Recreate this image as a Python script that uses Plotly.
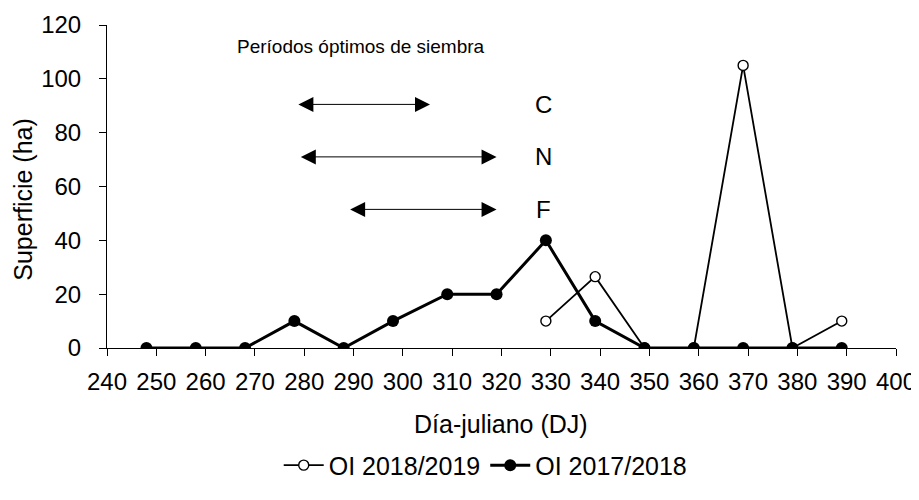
import plotly.graph_objects as go

# Data
dias = [248, 258, 268, 278, 288, 298, 309, 319, 329, 339, 349, 359, 369, 379, 389]
oi_2017_2018 = [0, 0, 0, 10, 0, 10, 20, 20, 40, 10, 0, 0, 0, 0, 0]
dias_2018 = [329, 339, 349, 359, 369, 379, 389]
oi_2018_2019 = [10, 26.5, 0, 0, 105, 0, 10]

# Optimal sowing periods (start, end, y level, label)
periodo_labels = ["C", "N", "F"]
periodo_inicio = [278.5, 279, 289]
periodo_fin = [305.5, 319, 319]
periodo_y = [90.5, 71, 51.5]

FONT = "Liberation Sans, Arial, sans-serif"

# The page body adds an 8px offset, so the figure is sized to fit the 919x500 window.
W, H = 911, 492
PLOT_L, PLOT_B, PLOT_W, PLOT_H = 107, 354, 789, 329  # reference plot area (window px)

fig = go.Figure()
fig.add_trace(go.Scatter(
    x=dias_2018, y=oi_2018_2019, mode="lines+markers", name="OI 2018/2019",
    line=dict(color="black", width=1.8),
    marker=dict(symbol="circle", size=10, color="white", line=dict(color="black", width=1.4)),
))
fig.add_trace(go.Scatter(
    x=dias, y=oi_2017_2018, mode="lines+markers", name="OI 2017/2018",
    line=dict(color="black", width=3),
    marker=dict(symbol="circle", size=12, color="black"),
))

annotations = []
for lab, x0, x1, yv in zip(periodo_labels, periodo_inicio, periodo_fin, periodo_y):
    annotations.append(dict(
        x=x1, y=yv, ax=x0, ay=yv, xref="x", yref="y", axref="x", ayref="y",
        text="", showarrow=True, arrowhead=2, startarrowhead=2, arrowside="end+start",
        arrowsize=3, startarrowsize=3, arrowwidth=1, arrowcolor="black",
    ))
    annotations.append(dict(
        x=328.5, y=yv, xref="x", yref="y", text=lab, showarrow=False,
        font=dict(size=24, color="black", family=FONT),
    ))
annotations.append(dict(
    x=291.5, y=112, xref="x", yref="y", text="Períodos óptimos de siembra",
    showarrow=False, font=dict(size=19, color="black", family=FONT),
))
# axis titles
annotations.append(dict(
    x=(501 - PLOT_L) / PLOT_W, y=-(431 - PLOT_B) / PLOT_H, xref="paper", yref="paper",
    text="Día-juliano (DJ)", showarrow=False, xanchor="center", yanchor="middle",
    font=dict(size=25, color="black", family=FONT),
))
annotations.append(dict(
    x=(23 - PLOT_L) / PLOT_W, y=(PLOT_B - 203) / PLOT_H, xref="paper", yref="paper",
    text="Superficie (ha)", showarrow=False, textangle=-90, xanchor="center", yanchor="middle",
    font=dict(size=25, color="black", family=FONT),
))

fig.update_layout(
    width=W, height=H,
    margin=dict(l=PLOT_L - 8, r=23, t=25 - 8, b=146),
    paper_bgcolor="white", plot_bgcolor="white",
    font=dict(family=FONT, size=24, color="black"),
    showlegend=True,
    legend=dict(orientation="h", x=0.48, xanchor="center", y=-(497 - PLOT_B) / PLOT_H, yanchor="bottom",
                font=dict(size=25), itemwidth=40),
    annotations=annotations,
    xaxis=dict(
        range=[240, 400], tickmode="linear", tick0=240, dtick=10,
        showline=True, linecolor="black", linewidth=1,
        ticks="outside", ticklen=7, tickcolor="black", showgrid=False, zeroline=False,
        tickfont=dict(size=24), ticklabelstandoff=5, automargin=False,
    ),
    yaxis=dict(
        range=[0, 120], tickmode="linear", tick0=0, dtick=20,
        showline=True, linecolor="black", linewidth=1,
        ticks="outside", ticklen=7, tickcolor="black", showgrid=False, zeroline=False,
        tickfont=dict(size=24), ticklabelstandoff=13, automargin=False,
    ),
)

fig.write_html("out.html")
